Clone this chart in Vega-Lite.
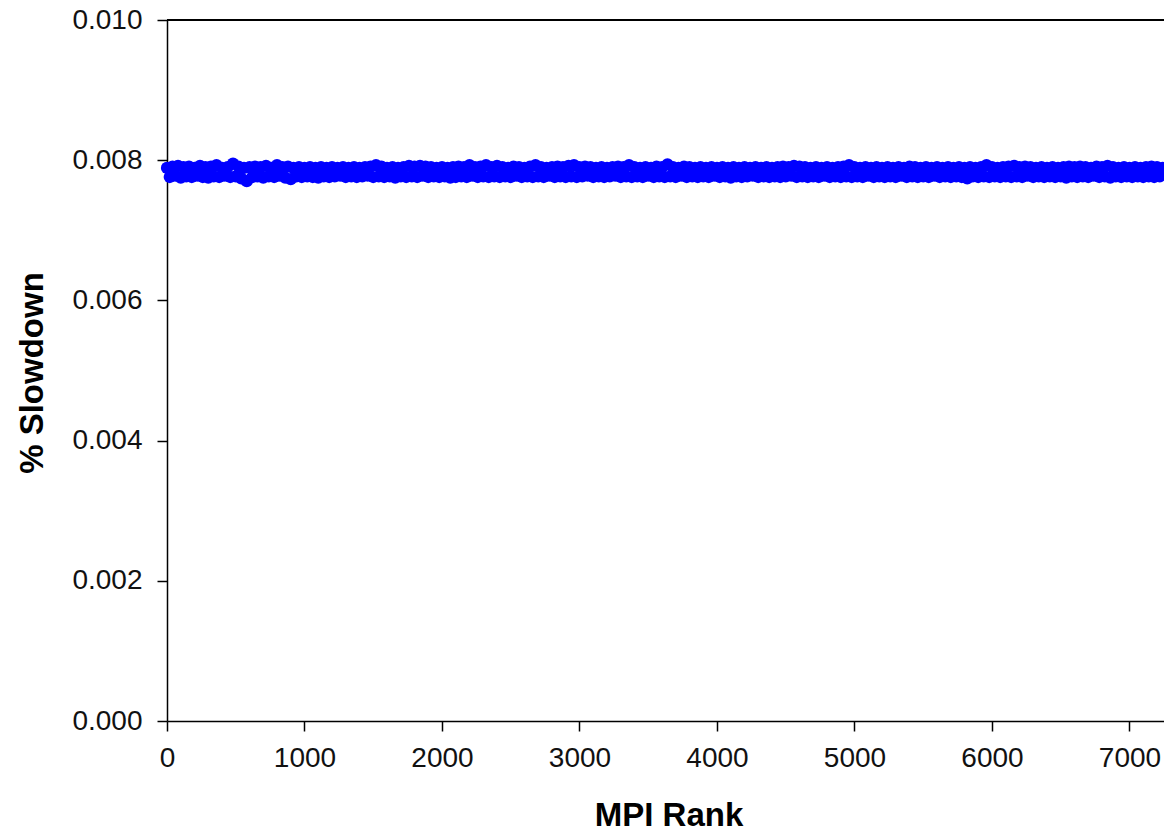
{
  "$schema": "https://vega.github.io/schema/vega-lite/v6.json",
  "width": 997,
  "height": 701,
  "autosize": {"type": "none"},
  "padding": {"left": 167, "top": 20, "right": 0, "bottom": 115},
  "background": "white",
  "config": {"view": {"stroke": null}, "font": "Liberation Sans"},
  "data": {"values": [
    {"r":0,"s":0.00789},{"r":20,"s":0.00776},{"r":40,"s":0.00791},{"r":60,"s":0.00778},{"r":80,"s":0.00792},{"r":100,"s":0.00775},{"r":120,"s":0.00790},{"r":140,"s":0.00777},{"r":160,"s":0.00791},{"r":180,"s":0.00776},
    {"r":200,"s":0.00789},{"r":220,"s":0.00778},{"r":240,"s":0.00792},{"r":260,"s":0.00776},{"r":280,"s":0.00790},{"r":300,"s":0.00775},{"r":320,"s":0.00791},{"r":340,"s":0.00777},{"r":360,"s":0.00793},{"r":380,"s":0.00776},
    {"r":400,"s":0.00789},{"r":420,"s":0.00778},{"r":440,"s":0.00790},{"r":460,"s":0.00776},{"r":480,"s":0.00795},{"r":500,"s":0.00777},{"r":520,"s":0.00791},{"r":540,"s":0.00774},{"r":560,"s":0.00789},{"r":580,"s":0.00770},
    {"r":600,"s":0.00790},{"r":620,"s":0.00776},{"r":640,"s":0.00791},{"r":660,"s":0.00777},{"r":680,"s":0.00790},{"r":700,"s":0.00775},{"r":720,"s":0.00792},{"r":740,"s":0.00777},{"r":760,"s":0.00789},{"r":780,"s":0.00776},
    {"r":800,"s":0.00793},{"r":820,"s":0.00778},{"r":840,"s":0.00790},{"r":860,"s":0.00775},{"r":880,"s":0.00791},{"r":900,"s":0.00773},{"r":920,"s":0.00789},{"r":940,"s":0.00777},{"r":960,"s":0.00790},{"r":980,"s":0.00776},
    {"r":1000,"s":0.00789},{"r":1020,"s":0.00777},{"r":1040,"s":0.00790},{"r":1060,"s":0.00776},{"r":1080,"s":0.00789},{"r":1100,"s":0.00775},{"r":1120,"s":0.00790},{"r":1140,"s":0.00777},{"r":1160,"s":0.00789},{"r":1180,"s":0.00776},
    {"r":1200,"s":0.00790},{"r":1220,"s":0.00777},{"r":1240,"s":0.00789},{"r":1260,"s":0.00778},{"r":1280,"s":0.00790},{"r":1300,"s":0.00776},{"r":1320,"s":0.00789},{"r":1340,"s":0.00777},{"r":1360,"s":0.00790},{"r":1380,"s":0.00776},
    {"r":1400,"s":0.00789},{"r":1420,"s":0.00777},{"r":1440,"s":0.00790},{"r":1460,"s":0.00778},{"r":1480,"s":0.00791},{"r":1500,"s":0.00776},{"r":1520,"s":0.00793},{"r":1540,"s":0.00777},{"r":1560,"s":0.00791},{"r":1580,"s":0.00776},
    {"r":1600,"s":0.00789},{"r":1620,"s":0.00777},{"r":1640,"s":0.00790},{"r":1660,"s":0.00775},{"r":1680,"s":0.00789},{"r":1700,"s":0.00777},{"r":1720,"s":0.00790},{"r":1740,"s":0.00776},{"r":1760,"s":0.00792},{"r":1780,"s":0.00777},
    {"r":1800,"s":0.00791},{"r":1820,"s":0.00776},{"r":1840,"s":0.00792},{"r":1860,"s":0.00778},{"r":1880,"s":0.00791},{"r":1900,"s":0.00776},{"r":1920,"s":0.00790},{"r":1940,"s":0.00777},{"r":1960,"s":0.00789},{"r":1980,"s":0.00776},
    {"r":2000,"s":0.00790},{"r":2020,"s":0.00777},{"r":2040,"s":0.00789},{"r":2060,"s":0.00775},{"r":2080,"s":0.00790},{"r":2100,"s":0.00776},{"r":2120,"s":0.00791},{"r":2140,"s":0.00777},{"r":2160,"s":0.00790},{"r":2180,"s":0.00776},
    {"r":2200,"s":0.00793},{"r":2220,"s":0.00778},{"r":2240,"s":0.00790},{"r":2260,"s":0.00776},{"r":2280,"s":0.00791},{"r":2300,"s":0.00777},{"r":2320,"s":0.00793},{"r":2340,"s":0.00776},{"r":2360,"s":0.00790},{"r":2380,"s":0.00777},
    {"r":2400,"s":0.00792},{"r":2420,"s":0.00776},{"r":2440,"s":0.00790},{"r":2460,"s":0.00777},{"r":2480,"s":0.00789},{"r":2500,"s":0.00776},{"r":2520,"s":0.00791},{"r":2540,"s":0.00778},{"r":2560,"s":0.00790},{"r":2580,"s":0.00776},
    {"r":2600,"s":0.00789},{"r":2620,"s":0.00777},{"r":2640,"s":0.00791},{"r":2660,"s":0.00776},{"r":2680,"s":0.00793},{"r":2700,"s":0.00777},{"r":2720,"s":0.00790},{"r":2740,"s":0.00776},{"r":2760,"s":0.00789},{"r":2780,"s":0.00778},
    {"r":2800,"s":0.00790},{"r":2820,"s":0.00776},{"r":2840,"s":0.00791},{"r":2860,"s":0.00777},{"r":2880,"s":0.00790},{"r":2900,"s":0.00776},{"r":2920,"s":0.00792},{"r":2940,"s":0.00777},{"r":2960,"s":0.00793},{"r":2980,"s":0.00776},
    {"r":3000,"s":0.00790},{"r":3020,"s":0.00777},{"r":3040,"s":0.00791},{"r":3060,"s":0.00778},{"r":3080,"s":0.00790},{"r":3100,"s":0.00776},{"r":3120,"s":0.00789},{"r":3140,"s":0.00777},{"r":3160,"s":0.00790},{"r":3180,"s":0.00776},
    {"r":3200,"s":0.00789},{"r":3220,"s":0.00777},{"r":3240,"s":0.00790},{"r":3260,"s":0.00778},{"r":3280,"s":0.00791},{"r":3300,"s":0.00776},{"r":3320,"s":0.00790},{"r":3340,"s":0.00777},{"r":3360,"s":0.00793},{"r":3380,"s":0.00776},
    {"r":3400,"s":0.00790},{"r":3420,"s":0.00777},{"r":3440,"s":0.00789},{"r":3460,"s":0.00776},{"r":3480,"s":0.00790},{"r":3500,"s":0.00778},{"r":3520,"s":0.00789},{"r":3540,"s":0.00776},{"r":3560,"s":0.00791},{"r":3580,"s":0.00777},
    {"r":3600,"s":0.00790},{"r":3620,"s":0.00776},{"r":3640,"s":0.00794},{"r":3660,"s":0.00777},{"r":3680,"s":0.00790},{"r":3700,"s":0.00776},{"r":3720,"s":0.00789},{"r":3740,"s":0.00778},{"r":3760,"s":0.00791},{"r":3780,"s":0.00776},
    {"r":3800,"s":0.00790},{"r":3820,"s":0.00777},{"r":3840,"s":0.00789},{"r":3860,"s":0.00776},{"r":3880,"s":0.00790},{"r":3900,"s":0.00777},{"r":3920,"s":0.00789},{"r":3940,"s":0.00776},{"r":3960,"s":0.00790},{"r":3980,"s":0.00778},
    {"r":4000,"s":0.00789},{"r":4020,"s":0.00776},{"r":4040,"s":0.00790},{"r":4060,"s":0.00777},{"r":4080,"s":0.00789},{"r":4100,"s":0.00775},{"r":4120,"s":0.00790},{"r":4140,"s":0.00777},{"r":4160,"s":0.00789},{"r":4180,"s":0.00776},
    {"r":4200,"s":0.00790},{"r":4220,"s":0.00777},{"r":4240,"s":0.00789},{"r":4260,"s":0.00778},{"r":4280,"s":0.00790},{"r":4300,"s":0.00776},{"r":4320,"s":0.00789},{"r":4340,"s":0.00777},{"r":4360,"s":0.00790},{"r":4380,"s":0.00776},
    {"r":4400,"s":0.00789},{"r":4420,"s":0.00777},{"r":4440,"s":0.00790},{"r":4460,"s":0.00776},{"r":4480,"s":0.00791},{"r":4500,"s":0.00777},{"r":4520,"s":0.00790},{"r":4540,"s":0.00778},{"r":4560,"s":0.00792},{"r":4580,"s":0.00776},
    {"r":4600,"s":0.00791},{"r":4620,"s":0.00777},{"r":4640,"s":0.00790},{"r":4660,"s":0.00776},{"r":4680,"s":0.00789},{"r":4700,"s":0.00777},{"r":4720,"s":0.00790},{"r":4740,"s":0.00776},{"r":4760,"s":0.00789},{"r":4780,"s":0.00778},
    {"r":4800,"s":0.00790},{"r":4820,"s":0.00776},{"r":4840,"s":0.00789},{"r":4860,"s":0.00777},{"r":4880,"s":0.00790},{"r":4900,"s":0.00776},{"r":4920,"s":0.00791},{"r":4940,"s":0.00777},{"r":4960,"s":0.00793},{"r":4980,"s":0.00776},
    {"r":5000,"s":0.00790},{"r":5020,"s":0.00777},{"r":5040,"s":0.00789},{"r":5060,"s":0.00776},{"r":5080,"s":0.00790},{"r":5100,"s":0.00778},{"r":5120,"s":0.00789},{"r":5140,"s":0.00776},{"r":5160,"s":0.00790},{"r":5180,"s":0.00777},
    {"r":5200,"s":0.00789},{"r":5220,"s":0.00776},{"r":5240,"s":0.00790},{"r":5260,"s":0.00777},{"r":5280,"s":0.00789},{"r":5300,"s":0.00776},{"r":5320,"s":0.00790},{"r":5340,"s":0.00778},{"r":5360,"s":0.00789},{"r":5380,"s":0.00776},
    {"r":5400,"s":0.00791},{"r":5420,"s":0.00777},{"r":5440,"s":0.00790},{"r":5460,"s":0.00776},{"r":5480,"s":0.00789},{"r":5500,"s":0.00777},{"r":5520,"s":0.00790},{"r":5540,"s":0.00776},{"r":5560,"s":0.00789},{"r":5580,"s":0.00778},
    {"r":5600,"s":0.00790},{"r":5620,"s":0.00776},{"r":5640,"s":0.00789},{"r":5660,"s":0.00777},{"r":5680,"s":0.00790},{"r":5700,"s":0.00776},{"r":5720,"s":0.00789},{"r":5740,"s":0.00777},{"r":5760,"s":0.00790},{"r":5780,"s":0.00776},
    {"r":5800,"s":0.00789},{"r":5820,"s":0.00774},{"r":5840,"s":0.00790},{"r":5860,"s":0.00777},{"r":5880,"s":0.00789},{"r":5900,"s":0.00776},{"r":5920,"s":0.00790},{"r":5940,"s":0.00777},{"r":5960,"s":0.00793},{"r":5980,"s":0.00776},
    {"r":6000,"s":0.00790},{"r":6020,"s":0.00777},{"r":6040,"s":0.00789},{"r":6060,"s":0.00776},{"r":6080,"s":0.00790},{"r":6100,"s":0.00777},{"r":6120,"s":0.00791},{"r":6140,"s":0.00776},{"r":6160,"s":0.00792},{"r":6180,"s":0.00777},
    {"r":6200,"s":0.00790},{"r":6220,"s":0.00776},{"r":6240,"s":0.00791},{"r":6260,"s":0.00778},{"r":6280,"s":0.00790},{"r":6300,"s":0.00776},{"r":6320,"s":0.00789},{"r":6340,"s":0.00777},{"r":6360,"s":0.00790},{"r":6380,"s":0.00776},
    {"r":6400,"s":0.00789},{"r":6420,"s":0.00777},{"r":6440,"s":0.00790},{"r":6460,"s":0.00776},{"r":6480,"s":0.00789},{"r":6500,"s":0.00777},{"r":6520,"s":0.00790},{"r":6540,"s":0.00775},{"r":6560,"s":0.00791},{"r":6580,"s":0.00777},
    {"r":6600,"s":0.00790},{"r":6620,"s":0.00776},{"r":6640,"s":0.00791},{"r":6660,"s":0.00777},{"r":6680,"s":0.00790},{"r":6700,"s":0.00776},{"r":6720,"s":0.00789},{"r":6740,"s":0.00778},{"r":6760,"s":0.00791},{"r":6780,"s":0.00776},
    {"r":6800,"s":0.00790},{"r":6820,"s":0.00777},{"r":6840,"s":0.00792},{"r":6860,"s":0.00775},{"r":6880,"s":0.00790},{"r":6900,"s":0.00777},{"r":6920,"s":0.00789},{"r":6940,"s":0.00776},{"r":6960,"s":0.00790},{"r":6980,"s":0.00777},
    {"r":7000,"s":0.00789},{"r":7020,"s":0.00776},{"r":7040,"s":0.00790},{"r":7060,"s":0.00777},{"r":7080,"s":0.00789},{"r":7100,"s":0.00776},{"r":7120,"s":0.00790},{"r":7140,"s":0.00777},{"r":7160,"s":0.00791},{"r":7180,"s":0.00776},
    {"r":7200,"s":0.00790},{"r":7220,"s":0.00777},{"r":7240,"s":0.00789}
  ]},
  "layer": [
    {
      "mark": {"type": "point", "filled": true, "shape": "circle", "size": 150, "color": "#0000ff", "opacity": 1, "strokeWidth": 0, "clip": false},
      "encoding": {
        "x": {
          "field": "r", "type": "quantitative",
          "scale": {"domain": [0, 7251], "nice": false, "zero": false},
          "axis": {
            "title": "MPI Rank", "values": [0, 1000, 2000, 3000, 4000, 5000, 6000, 7000], "format": "d",
            "grid": false, "tickSize": 10, "tickColor": "black", "tickWidth": 1.5,
            "domainColor": "black", "domainWidth": 1.5,
            "labelFontSize": 28, "labelColor": "#111111", "labelPadding": 13,
            "labelFlush": false, "labelOverlap": false,
            "titleFontSize": 33, "titleFontWeight": "bold", "titleColor": "black",
            "titleX": 501.5, "titleY": 104, "titleBaseline": "alphabetic", "titleAlign": "center"
          }
        },
        "y": {
          "field": "s", "type": "quantitative",
          "scale": {"domain": [0, 0.01], "nice": false},
          "axis": {
            "title": "% Slowdown", "values": [0, 0.002, 0.004, 0.006, 0.008, 0.01], "format": ".3f",
            "grid": false, "tickSize": 10, "tickColor": "black", "tickWidth": 1.5,
            "domainColor": "black", "domainWidth": 1.5,
            "labelFontSize": 28, "labelColor": "#111111", "labelPadding": 15,
            "labelFlush": false, "labelOverlap": false,
            "titleFontSize": 33, "titleFontWeight": "bold", "titleColor": "black",
            "titleAngle": -90, "titleX": -125, "titleY": 352.5, "titleBaseline": "alphabetic", "titleAlign": "center"
          }
        }
      }
    },
    {
      "mark": {"type": "rule", "color": "black", "strokeWidth": 1.5},
      "encoding": {"y": {"datum": 0.01}}
    }
  ]
}
